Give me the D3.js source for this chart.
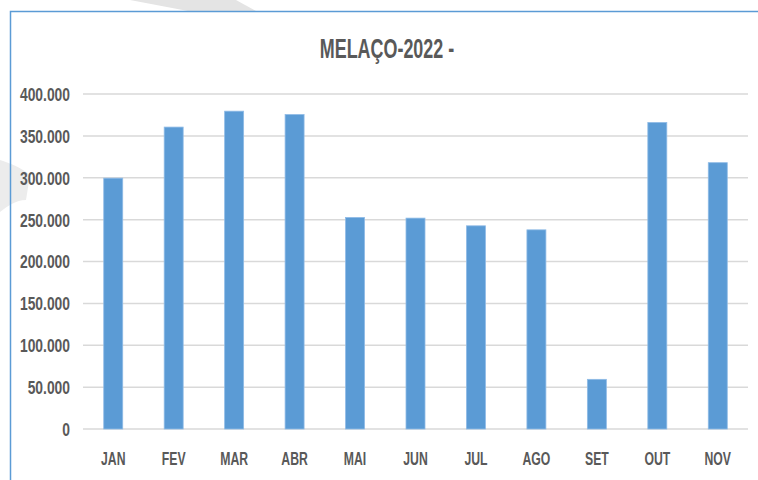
<!DOCTYPE html>
<html>
<head>
<meta charset="utf-8">
<script src="https://cdn.jsdelivr.net/npm/d3@7"></script>
<style>
  body { margin: 0; background: #fff; }
  text { font-family: "Liberation Sans", Arial, sans-serif; font-weight: bold; fill: #595959; }
</style>
</head>
<body>
<div id="chart"></div>
<script>
// data
var months = ["JAN", "FEV", "MAR", "ABR", "MAI", "JUN", "JUL", "AGO", "SET", "OUT", "NOV"];
var volumes = [299500, 360500, 379500, 375500, 252600, 251800, 242600, 237800, 59300, 366000, 318000];
var yTicks = [0, 50000, 100000, 150000, 200000, 250000, 300000, 350000, 400000];
var title = "MELAÇO-2022 -";

var svgWidth = 758;
var svgHeight = 480;

var margin = { top: 94, right: 10, bottom: 51, left: 83 };
var width = svgWidth - margin.left - margin.right;
var height = svgHeight - margin.top - margin.bottom;

// the original uses a condensed font, so the text is squeezed sideways
var tickSqueeze = 0.77;
var monthSqueeze = 0.68;
var titleSqueeze = 0.64;

var svg = d3.select("#chart")
  .append("svg")
  .attr("width", svgWidth)
  .attr("height", svgHeight);

svg.append("rect")
  .attr("width", svgWidth)
  .attr("height", svgHeight)
  .attr("fill", "#fff");

// faint grey shapes of the slide behind the chart
svg.append("path")
  .attr("d", "M130,0 L236,0 L256,11 L188,11 Z")
  .attr("fill", "#e4e4e4");
svg.append("path")
  .attr("d", "M0,160 C10,163 22,168 30,175 L26,200 C16,200 8,206 0,212 Z")
  .attr("fill", "#ececec");

// frame
svg.append("path")
  .attr("d", "M758,11.5 H10.5 V480")
  .attr("fill", "none")
  .attr("stroke", "#5b9bd5")
  .attr("stroke-width", 1.5);

var chartGroup = svg.append("g")
  .attr("transform", `translate(${margin.left}, ${margin.top})`);

var xScale = d3.scaleBand()
  .domain(months)
  .range([0, width])
  .paddingInner(0.686)
  .paddingOuter(0.343);

var yScale = d3.scaleLinear()
  .domain([0, 400000])
  .range([height, 0]);

var fmt = d3.formatLocale({ decimal: ",", thousands: ".", grouping: [3], currency: ["", ""] }).format(",d");

// gridlines
chartGroup.selectAll(".grid")
  .data(yTicks)
  .enter()
  .append("line")
  .attr("x1", 0)
  .attr("x2", width)
  .attr("y1", d => yScale(d))
  .attr("y2", d => yScale(d))
  .attr("stroke", "#d9d9d9")
  .attr("stroke-width", 1.5);

// y axis labels
var leftAxis = d3.axisLeft(yScale)
  .tickValues(yTicks)
  .tickFormat(fmt)
  .tickSize(0);

chartGroup.append("g")
  .call(leftAxis)
  .call(g => g.select(".domain").remove())
  .selectAll("text")
  .attr("font-size", 18)
  .attr("x", -13 / tickSqueeze)
  .attr("dy", "0.36em")
  .attr("transform", `scale(${tickSqueeze},1)`);

// bars
chartGroup.selectAll("rect")
  .data(volumes)
  .enter()
  .append("rect")
  .attr("x", (d, i) => xScale(months[i]))
  .attr("y", d => yScale(d))
  .attr("width", xScale.bandwidth())
  .attr("height", d => height - yScale(d))
  .attr("fill", "#5b9bd5")
  .attr("stroke", "#8fbbe6")
  .attr("stroke-width", 0.8);

// x axis labels
var bottomAxis = d3.axisBottom(xScale)
  .tickSize(0);

chartGroup.append("g")
  .attr("transform", `translate(0, ${height})`)
  .call(bottomAxis)
  .call(g => g.select(".domain").remove())
  .selectAll("text")
  .attr("font-size", 18)
  .attr("y", 36)
  .attr("dy", 0)
  .attr("transform", `scale(${monthSqueeze},1)`);

// title
svg.append("text")
  .attr("transform", `translate(387, 58) scale(${titleSqueeze},1)`)
  .attr("text-anchor", "middle")
  .attr("font-size", 28)
  .text(title);
</script>
</body>
</html>
